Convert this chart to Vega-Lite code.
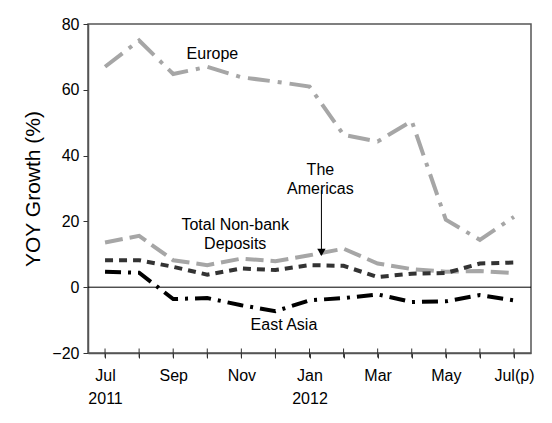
{
  "$schema": "https://vega.github.io/schema/vega-lite/v6.json",
  "width": 443,
  "height": 329,
  "autosize": {"type": "none"},
  "padding": {"left": 88, "top": 24, "right": 21, "bottom": 70},
  "background": "white",
  "config": {
    "view": {"stroke": "#555555", "strokeWidth": 1.5},
    "font": "Liberation Sans",
    "axis": {
      "labelFont": "Liberation Sans",
      "labelFontSize": 16,
      "labelColor": "#000000",
      "titleFont": "Liberation Sans",
      "titleFontSize": 21,
      "titleFontWeight": "normal",
      "titleColor": "#000000",
      "domainColor": "#555555",
      "domainWidth": 1.5,
      "tickColor": "#333333",
      "tickWidth": 1,
      "grid": false
    }
  },
  "datasets": {
    "series": [
      {"m": 0, "series": "Europe", "v": 67},
      {"m": 1, "series": "Europe", "v": 75},
      {"m": 2, "series": "Europe", "v": 64.8},
      {"m": 3, "series": "Europe", "v": 67},
      {"m": 4, "series": "Europe", "v": 63.8},
      {"m": 5, "series": "Europe", "v": 62.5},
      {"m": 6, "series": "Europe", "v": 61},
      {"m": 7, "series": "Europe", "v": 46.3},
      {"m": 8, "series": "Europe", "v": 44.3},
      {"m": 9, "series": "Europe", "v": 50.5},
      {"m": 10, "series": "Europe", "v": 20.5},
      {"m": 11, "series": "Europe", "v": 14.4},
      {"m": 12, "series": "Europe", "v": 21.4},
      {"m": 0, "series": "The Americas", "v": 13.6},
      {"m": 1, "series": "The Americas", "v": 15.6},
      {"m": 2, "series": "The Americas", "v": 8.2},
      {"m": 3, "series": "The Americas", "v": 6.7},
      {"m": 4, "series": "The Americas", "v": 8.7},
      {"m": 5, "series": "The Americas", "v": 7.9},
      {"m": 6, "series": "The Americas", "v": 9.7},
      {"m": 7, "series": "The Americas", "v": 11.7},
      {"m": 8, "series": "The Americas", "v": 7.2},
      {"m": 9, "series": "The Americas", "v": 5.5},
      {"m": 10, "series": "The Americas", "v": 4.7},
      {"m": 11, "series": "The Americas", "v": 4.9},
      {"m": 12, "series": "The Americas", "v": 4.3},
      {"m": 0, "series": "Total Non-bank Deposits", "v": 8.2},
      {"m": 1, "series": "Total Non-bank Deposits", "v": 8.2},
      {"m": 2, "series": "Total Non-bank Deposits", "v": 6.2},
      {"m": 3, "series": "Total Non-bank Deposits", "v": 3.8},
      {"m": 4, "series": "Total Non-bank Deposits", "v": 5.7},
      {"m": 5, "series": "Total Non-bank Deposits", "v": 5.2},
      {"m": 6, "series": "Total Non-bank Deposits", "v": 6.7},
      {"m": 7, "series": "Total Non-bank Deposits", "v": 6.5},
      {"m": 8, "series": "Total Non-bank Deposits", "v": 3.1},
      {"m": 9, "series": "Total Non-bank Deposits", "v": 4.1},
      {"m": 10, "series": "Total Non-bank Deposits", "v": 4.3},
      {"m": 11, "series": "Total Non-bank Deposits", "v": 7.2},
      {"m": 12, "series": "Total Non-bank Deposits", "v": 7.5},
      {"m": 0, "series": "East Asia", "v": 4.7},
      {"m": 1, "series": "East Asia", "v": 4.4},
      {"m": 2, "series": "East Asia", "v": -3.6},
      {"m": 3, "series": "East Asia", "v": -3.3},
      {"m": 4, "series": "East Asia", "v": -5.5},
      {"m": 5, "series": "East Asia", "v": -7.3},
      {"m": 6, "series": "East Asia", "v": -4},
      {"m": 7, "series": "East Asia", "v": -3.3},
      {"m": 8, "series": "East Asia", "v": -2.2},
      {"m": 9, "series": "East Asia", "v": -4.5},
      {"m": 10, "series": "East Asia", "v": -4.3},
      {"m": 11, "series": "East Asia", "v": -2.4},
      {"m": 12, "series": "East Asia", "v": -4}
    ],
    "labels": [
      {"m": 3.15, "v": 70.9, "label": "Europe"},
      {"m": 6.32, "v": 35.7, "label": "The\nAmericas"},
      {"m": 3.82, "v": 18.8, "label": "Total Non-bank\nDeposits"},
      {"m": 5.25, "v": -11.4, "label": "East Asia"}
    ],
    "ticks": [
      {"m": 0, "v": -20}, {"m": 1, "v": -20}, {"m": 2, "v": -20}, {"m": 3, "v": -20},
      {"m": 4, "v": -20}, {"m": 5, "v": -20}, {"m": 6, "v": -20}, {"m": 7, "v": -20},
      {"m": 8, "v": -20}, {"m": 9, "v": -20}, {"m": 10, "v": -20}, {"m": 11, "v": -20},
      {"m": 12, "v": -20}
    ],
    "arrow": [
      {"m": 6.35, "v": 29.5, "v2": 11.5, "tip": 10.6}
    ]
  },
  "encoding": {
    "x": {
      "field": "m",
      "type": "quantitative",
      "scale": {"domain": [-0.5, 12.5], "nice": false, "zero": false},
      "axis": {
        "title": null,
        "values": [0, 1, 2, 3, 4, 5, 6, 7, 8, 9, 10, 11, 12],
        "labelExpr": "[['Jul','2011'],'','Sep','','Nov','',['Jan','2012'],'','Mar','','May','','Jul(p)'][datum.value]",
        "labelOverlap": false,
        "labelBound": false,
        "labelLineHeight": 23,
        "labelPadding": 9,
        "tickSize": 5
      }
    },
    "y": {
      "field": "v",
      "type": "quantitative",
      "scale": {"domain": [-20, 80], "nice": false},
      "axis": {
        "title": "YOY Growth (%)",
        "values": [-20, 0, 20, 40, 60, 80],
        "tickSize": 5,
        "labelPadding": 4,
        "titlePadding": 8
      }
    }
  },
  "layer": [
    {
      "data": {"values": [{"v": 0}]},
      "mark": {"type": "rule", "color": "#000000", "strokeWidth": 1},
      "encoding": {"x": null, "y": {"field": "v", "type": "quantitative"}}
    },
    {
      "data": {"name": "series"},
      "mark": {"type": "line", "strokeCap": "butt"},
      "encoding": {
        "detail": {"field": "series"},
        "color": {
          "field": "series",
          "type": "nominal",
          "scale": {
            "domain": ["Europe", "The Americas", "Total Non-bank Deposits", "East Asia"],
            "range": ["#a6a6a6", "#a6a6a6", "#333333", "#000000"]
          },
          "legend": null
        },
        "strokeDash": {
          "field": "series",
          "type": "nominal",
          "scale": {
            "domain": ["Europe", "The Americas", "Total Non-bank Deposits", "East Asia"],
            "range": [[22, 8, 4, 8], [18, 7], [8, 6], [16, 7, 3, 7]]
          },
          "legend": null
        },
        "strokeWidth": {
          "field": "series",
          "type": "nominal",
          "scale": {
            "domain": ["Europe", "The Americas", "Total Non-bank Deposits", "East Asia"],
            "range": [4, 4, 4, 5]
          },
          "legend": null
        }
      }
    },
    {
      "data": {"name": "labels"},
      "mark": {"type": "text", "fontSize": 16, "font": "Liberation Sans", "color": "#000000", "lineBreak": "\n", "lineHeight": 19, "align": "center", "baseline": "middle"},
      "encoding": {"text": {"field": "label"}}
    },
    {
      "data": {"name": "arrow"},
      "mark": {"type": "rule", "color": "#000000", "strokeWidth": 1},
      "encoding": {"y2": {"field": "v2"}}
    },
    {
      "data": {"name": "arrow"},
      "mark": {"type": "point", "shape": "triangle-down", "filled": true, "color": "#000000", "size": 70, "opacity": 1},
      "encoding": {"y": {"field": "tip", "type": "quantitative"}}
    },
    {
      "data": {"name": "ticks"},
      "mark": {"type": "tick", "orient": "vertical", "size": 9, "thickness": 1, "color": "#333333", "opacity": 1},
      "encoding": {}
    }
  ]
}
